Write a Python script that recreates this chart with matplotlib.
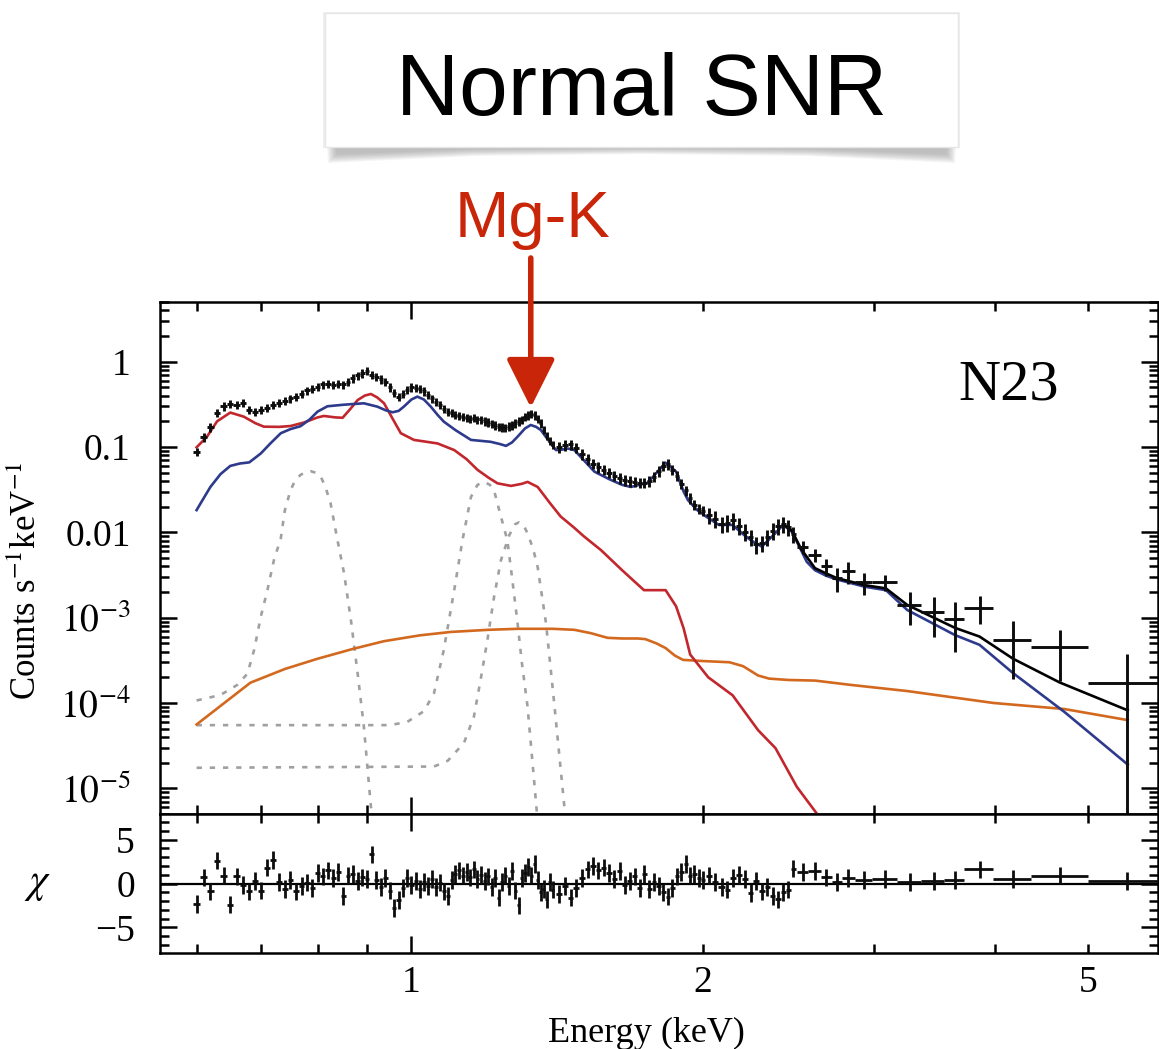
import matplotlib
matplotlib.use('Agg')
import matplotlib.pyplot as plt
import numpy as np
from matplotlib.patches import Rectangle, Polygon
from matplotlib.ticker import FixedLocator, FuncFormatter, NullFormatter, LogLocator

plt.rcParams['font.family'] = ['Liberation Serif', 'DejaVu Serif']
plt.rcParams['mathtext.fontset'] = 'stix'

# ---------------- observed spectrum (counts s^-1 keV^-1) ----------------
energy_a = [0.60, 0.61, 0.62, 0.63, 0.64, 0.65, 0.66, 0.67, 0.68, 0.69,
            0.70, 0.71, 0.72, 0.73, 0.74, 0.75, 0.76, 0.77, 0.78, 0.79,
            0.80, 0.81, 0.82, 0.83, 0.84, 0.85, 0.86, 0.87, 0.88, 0.89,
            0.90, 0.91, 0.92, 0.93, 0.94, 0.95, 0.96, 0.97, 0.98, 0.99,
            1.00, 1.01, 1.02, 1.03, 1.04, 1.05, 1.06, 1.07, 1.08, 1.09,
            1.10, 1.11, 1.12, 1.13, 1.14, 1.15, 1.16, 1.17, 1.18, 1.19,
            1.20, 1.21, 1.22, 1.23, 1.24, 1.25, 1.26, 1.27, 1.28, 1.29,
            1.30, 1.31, 1.32, 1.33, 1.34, 1.35, 1.36, 1.37, 1.38, 1.39, 1.40]
counts_a = [0.088, 0.13, 0.17, 0.25, 0.30, 0.32, 0.31, 0.33, 0.27, 0.26,
            0.27, 0.29, 0.31, 0.33, 0.35, 0.37, 0.39, 0.42, 0.46, 0.48,
            0.51, 0.54, 0.55, 0.53, 0.55, 0.54, 0.58, 0.64, 0.69, 0.73,
            0.78, 0.70, 0.66, 0.62, 0.58, 0.50, 0.43, 0.39, 0.42, 0.47,
            0.50, 0.49, 0.48, 0.45, 0.41, 0.37, 0.34, 0.31, 0.28, 0.26,
            0.25, 0.24, 0.23, 0.225, 0.22, 0.215, 0.22, 0.21, 0.21, 0.20,
            0.195, 0.185, 0.18, 0.172, 0.17, 0.168, 0.175, 0.18, 0.19, 0.20,
            0.21, 0.225, 0.235, 0.245, 0.235, 0.215, 0.19, 0.16, 0.135, 0.118, 0.105]
chi_a = [-2.3, 0.7, -0.9, 2.6, 0.9, -2.4, 0.8, -0.2, -0.9, 0.3,
         -0.8, 1.8, 2.7, 0.2, -0.6, 0.4, -0.9, -0.3, 0.1, -0.5,
         1.2, 0.8, 1.5, 0.6, 1.3, -1.4, 0.9, 1.1, 0.3, 0.7,
         0.5, 3.3, 0.4, -0.4, 0.6, -0.8, -2.8, -1.9, -0.5, 0.6,
         -0.2, 0.3, -0.6, 0.2, -0.3, 0.5, -0.4, 0.1, -0.9, -1.4,
         0.4, 1.1, 1.5, 0.9, 1.3, 0.7, 1.6, 0.5, 1.0, 0.3,
         0.8, -0.4, 0.6, -1.6, 0.2, 0.9, -0.3, 1.4, -0.8, -2.5,
         0.6, 1.2, 1.9, 0.9, 2.2, 0.4, -1.0, -0.6, -1.8, 0.2, -0.7]
halfwidth_a = 0.005
relerr_a = 0.11

energy_b = [1.42, 1.44, 1.46, 1.48, 1.50, 1.52, 1.54, 1.56, 1.58, 1.60,
            1.62, 1.64, 1.66, 1.68, 1.70, 1.72, 1.74, 1.76, 1.78, 1.80,
            1.82, 1.84, 1.86, 1.88, 1.90, 1.92, 1.94, 1.96, 1.98, 2.00]
counts_b = [0.100, 0.105, 0.107, 0.098, 0.082, 0.072, 0.064, 0.058, 0.054, 0.050,
            0.046, 0.043, 0.041, 0.040, 0.039, 0.038, 0.038, 0.040, 0.045, 0.052,
            0.060, 0.063, 0.054, 0.046, 0.037, 0.031, 0.025, 0.021, 0.019, 0.018]
chi_b = [-1.2, -0.3, -1.6, -0.5, 0.6, 1.6, 2.0, 1.5, 1.8, 1.2,
         0.5, 1.4, -0.2, 0.3, 0.8, -0.5, 1.1, -0.6, 0.2, -0.3,
         -1.0, -1.5, -0.5, 0.8, 1.3, 2.2, 0.9, 1.1, 0.6, 0.4]
halfwidth_b = 0.01
relerr_b = 0.14

energy_c = [2.03, 2.06, 2.09, 2.12, 2.15, 2.18, 2.21, 2.24, 2.27, 2.30,
            2.33, 2.36, 2.39, 2.42, 2.45, 2.48]
counts_c = [0.016, 0.0145, 0.0125, 0.013, 0.0138, 0.012, 0.0102, 0.0088, 0.0072, 0.0075,
            0.0088, 0.0105, 0.0118, 0.0125, 0.0115, 0.0095]
chi_c = [0.9, 0.2, -0.4, -0.7, 0.6, 1.0, 0.5, -1.1, 0.3, -0.9,
         -0.4, -1.4, -1.8, -1.0, -0.7, 1.7]
halfwidth_c = 0.015
relerr_c = 0.22

energy_d = [2.535, 2.61, 2.68, 2.75, 2.82, 2.93, 3.08, 3.27, 3.46, 3.64, 3.86, 4.18, 4.67, 5.48]
edge_lo_d = [2.50, 2.57, 2.645, 2.715, 2.785, 2.87, 2.99, 3.17, 3.36, 3.55, 3.72, 3.99, 4.36, 5.00]
edge_hi_d = [2.57, 2.645, 2.715, 2.785, 2.87, 2.99, 3.17, 3.36, 3.55, 3.72, 3.99, 4.36, 5.00, 6.00]
counts_d = [0.0068, 0.0054, 0.0040, 0.0029, 0.0035, 0.0026, 0.0026, 0.00141, 0.00118,
            0.00096, 0.00131, 0.00055, 0.00045, 0.00017]
err_d = [0.0012, 0.00095, 0.0009, 0.0009, 0.0010, 0.00075, 0.00055, 0.0006, 0.00058,
         0.00056, 0.00047, 0.00036, 0.00027, 0.00020]
chi_d = [1.3, 1.4, 0.7, 0.2, 0.6, 0.4, 0.5, 0.2, 0.3, 0.4, 1.6, 0.5, 0.9, 0.3]

# ---------------- model components ----------------
total_E = [2.42, 2.47, 2.525, 2.61, 2.68, 2.75, 2.82, 2.94, 3.09, 3.25, 3.64, 3.86, 4.18, 4.67, 5.49]
total_y = [0.0125, 0.0105, 0.0064, 0.0038, 0.0033, 0.0029, 0.0027, 0.0024, 0.0022, 0.00141,
           7.6e-4, 6.0e-4, 3.3e-4, 1.74e-4, 8.2e-5]

blue_E = [0.600, 0.610, 0.620, 0.635, 0.650, 0.665, 0.680, 0.699, 0.715, 0.733,
          0.750, 0.768, 0.785, 0.800, 0.819, 0.852, 0.893, 0.922, 0.940, 0.956,
          0.970, 0.982, 1.000, 1.014, 1.030, 1.047, 1.065, 1.080, 1.110, 1.152,
          1.207, 1.235, 1.252, 1.270, 1.287, 1.310, 1.328, 1.345, 1.360, 1.385,
          1.410, 1.430, 1.450, 1.473, 1.510, 1.545, 1.600, 1.650, 1.685, 1.753,
          1.800, 1.830, 1.876, 1.910, 1.930, 1.973, 2.020, 2.077, 2.146, 2.200,
          2.240, 2.300, 2.370, 2.420, 2.470, 2.525, 2.560, 2.610, 2.680, 2.750,
          2.940, 3.090, 3.250, 3.640, 3.860, 4.180, 4.720, 5.490]
blue_y = [0.0182, 0.025, 0.034, 0.048, 0.060, 0.064, 0.066, 0.084, 0.11, 0.145,
          0.162, 0.175, 0.21, 0.26, 0.300, 0.313, 0.325, 0.297, 0.27, 0.255,
          0.265, 0.297, 0.36, 0.389, 0.36, 0.297, 0.235, 0.198, 0.158, 0.121,
          0.115, 0.108, 0.103, 0.113, 0.132, 0.165, 0.181, 0.172, 0.158, 0.12,
          0.092, 0.093, 0.096, 0.092, 0.068, 0.0514, 0.042, 0.036, 0.034, 0.038,
          0.053, 0.0655, 0.0514, 0.030, 0.0238, 0.0182, 0.015, 0.0122, 0.0122, 0.0095,
          0.0081, 0.0068, 0.0095, 0.0122, 0.0102, 0.0062, 0.0045, 0.0036, 0.0031, 0.0028,
          0.0023, 0.0021, 0.00123, 6.26e-4, 4.8e-4, 2.24e-4, 7.9e-5, 1.9e-5]

red_E = [0.600, 0.615, 0.630, 0.650, 0.671, 0.690, 0.704, 0.730, 0.750, 0.774,
         0.800, 0.812, 0.835, 0.849, 0.865, 0.880, 0.895, 0.908, 0.922, 0.937,
         0.955, 0.975, 1.006, 1.064, 1.107, 1.140, 1.170, 1.200, 1.227, 1.267,
         1.300, 1.318, 1.350, 1.390, 1.426, 1.470, 1.508, 1.569, 1.650, 1.738,
         1.830, 1.876, 1.910, 1.940, 2.025, 2.146, 2.280, 2.376, 2.500, 2.620, 2.660]
red_y = [0.099, 0.132, 0.20, 0.253, 0.227, 0.19, 0.173, 0.172, 0.176, 0.193,
         0.222, 0.231, 0.222, 0.22, 0.28, 0.355, 0.40, 0.418, 0.38, 0.325,
         0.22, 0.145, 0.121, 0.110, 0.092, 0.072, 0.054, 0.044, 0.0375, 0.035,
         0.037, 0.039, 0.034, 0.022, 0.0153, 0.0115, 0.0089, 0.0062, 0.0036, 0.0021,
         0.0021, 0.00136, 0.00075, 0.00037, 0.00020, 1.23e-4, 4.8e-5, 2.96e-5, 1.04e-5, 5.1e-6, 3.5e-6]

orange_E = [0.600, 0.682, 0.740, 0.800, 0.870, 0.937, 1.020, 1.098, 1.200, 1.287,
            1.400, 1.473, 1.530, 1.594, 1.650, 1.713, 1.744, 1.790, 1.830, 1.870,
            1.907, 2.000, 2.130, 2.200, 2.280, 2.340, 2.450, 2.610, 2.840, 3.250,
            3.990, 4.720, 5.490]
orange_y = [5.6e-5, 1.73e-4, 2.5e-4, 3.3e-4, 4.3e-4, 5.3e-4, 6.2e-4, 6.8e-4, 7.2e-4, 7.4e-4,
            7.4e-4, 7.2e-4, 6.6e-4, 5.8e-4, 5.7e-4, 5.7e-4, 5.6e-4, 5.0e-4, 4.4e-4, 3.6e-4,
            3.2e-4, 3.1e-4, 3.0e-4, 2.7e-4, 2.1e-4, 1.93e-4, 1.86e-4, 1.83e-4, 1.63e-4, 1.38e-4,
            1.0e-4, 8.5e-5, 6.3e-5]

gauss1_E = [0.600, 0.635, 0.661, 0.677, 0.688, 0.699, 0.710, 0.721, 0.733, 0.740,
            0.750, 0.758, 0.768, 0.778, 0.787, 0.796, 0.806, 0.815, 0.825, 0.838,
            0.852, 0.866, 0.880, 0.893, 0.908, 0.912]
gauss1_y = [1.07e-4, 1.24e-4, 1.63e-4, 2.2e-4, 4.2e-4, 1.03e-3, 2.1e-3, 4.7e-3, 8.5e-3, 0.018,
            0.031, 0.040, 0.047, 0.051, 0.052, 0.050, 0.045, 0.034, 0.022, 8.5e-3,
            3.3e-3, 9.3e-4, 2.2e-4, 5.3e-5, 6.2e-6, 4e-6]
gauss2_E = [0.600, 0.950, 0.990, 1.030, 1.055, 1.080, 1.107, 1.129, 1.152, 1.170,
            1.189, 1.205, 1.217, 1.237, 1.256, 1.270, 1.287, 1.300, 1.318, 1.345, 1.350]
gauss2_y = [5.5e-5, 5.5e-5, 6.0e-5, 8.0e-5, 1.3e-4, 4.2e-4, 2.1e-3, 8.1e-3, 0.026, 0.036,
            0.039, 0.036, 0.031, 0.0153, 0.0081, 3.0e-3, 8.6e-4, 3.0e-4, 9.0e-5, 6.6e-6, 4e-6]
gauss3_E = [0.600, 1.055, 1.090, 1.133, 1.160, 1.179, 1.198, 1.217, 1.237, 1.262,
            1.280, 1.292, 1.305, 1.318, 1.335, 1.350, 1.377, 1.404, 1.438, 1.445]
gauss3_y = [1.74e-5, 1.8e-5, 2.1e-5, 3.4e-5, 6.9e-5, 1.9e-4, 5.5e-4, 1.75e-3, 4.7e-3, 9.3e-3,
            0.0125, 0.0131, 0.0122, 9.7e-3, 6.5e-3, 3.9e-3, 8.6e-4, 1.0e-4, 6.3e-6, 4e-6]

ytick_values = [1e-5, 1e-4, 1e-3, 0.01, 0.1, 1]
ytick_labels = [r'$10^{-5}$', r'$10^{-4}$', r'$10^{-3}$', '0.01', '0.1', '1']

# ---------------- colours ----------------
C_BLUE = '#2e3a8c'
C_RED = '#c1272d'
C_ORANGE = '#d2691e'
C_GRAY = '#a0a0a0'
C_DATA = '#0d0d0d'
C_ANNOT = '#c92508'

# ---------------- assemble data ----------------
E_all = np.array(energy_a + energy_b + energy_c + energy_d)
C_all = np.array(counts_a + counts_b + counts_c + counts_d)
chi_all = np.array(chi_a + chi_b + chi_c + chi_d)
xlo = np.concatenate([np.full(len(energy_a), halfwidth_a), np.full(len(energy_b), halfwidth_b),
                      np.full(len(energy_c), halfwidth_c), np.array(energy_d) - np.array(edge_lo_d)])
xhi = np.concatenate([np.full(len(energy_a), halfwidth_a), np.full(len(energy_b), halfwidth_b),
                      np.full(len(energy_c), halfwidth_c), np.array(edge_hi_d) - np.array(energy_d)])
yerr = np.concatenate([np.array(counts_a) * relerr_a, np.array(counts_b) * relerr_b,
                       np.array(counts_c) * relerr_c, np.array(err_d)])
ylo = np.minimum(yerr, C_all * 0.99999)

# ---------------- figure ----------------
W, H = 1159, 1049
fig = plt.figure(figsize=(W / 100, H / 100), dpi=100)
def fx(px): return px / W
def fy(py): return 1 - py / H

L, R = 160, 1158
ax = fig.add_axes([fx(L), fy(814), fx(R) - fx(L), fy(302) - fy(814)])
axr = fig.add_axes([fx(L), fy(953), fx(R) - fx(L), fy(814) - fy(953)])

lw_line = 1.9
for gE, gy in [(gauss1_E, gauss1_y), (gauss2_E, gauss2_y), (gauss3_E, gauss3_y)]:
    ax.plot(gE, gy, color=C_GRAY, lw=1.9, linestyle=(0, (2.0, 3.0)), zorder=2)
ax.plot(orange_E, orange_y, color=C_ORANGE, lw=lw_line, zorder=3)
ax.plot(red_E, red_y, color=C_RED, lw=lw_line, zorder=3)
ax.plot(blue_E, blue_y, color=C_BLUE, lw=lw_line, zorder=4)
ax.plot(total_E, total_y, color='black', lw=lw_line, zorder=4)
ax.errorbar(E_all, C_all, xerr=[xlo, xhi], yerr=[ylo, yerr], fmt='none',
            ecolor=C_DATA, elinewidth=2.1, capsize=0, zorder=5)

axr.axhline(0, color='black', lw=1.6, zorder=2)
axr.errorbar(E_all, chi_all, xerr=[xlo, xhi], yerr=np.ones_like(chi_all), fmt='none',
             ecolor=C_DATA, elinewidth=2.0, capsize=0, zorder=5)

# axes scaling and ticks
for a in (ax, axr):
    a.set_xscale('log')
    a.set_xlim(0.55, 5.9)
    a.xaxis.set_major_locator(FixedLocator([1]))
    a.xaxis.set_minor_locator(FixedLocator([0.6, 0.7, 0.8, 0.9, 2, 3, 4, 5]))
    a.tick_params(which='both', direction='in', top=True, right=True, width=1.8)
    a.tick_params(which='major', length=12)
    a.tick_params(which='minor', length=6.5)
    for s in a.spines.values():
        s.set_linewidth(1.8)

ax.set_yscale('log')
ax.set_ylim(5e-6, 5)
ax.yaxis.set_major_locator(FixedLocator(ytick_values))
ax.yaxis.set_major_formatter(FuncFormatter(lambda v, p: ytick_labels[ytick_values.index(min(ytick_values, key=lambda t: abs(np.log10(t) - np.log10(v))))]))
ax.yaxis.set_minor_locator(LogLocator(base=10, subs=(2, 3, 4, 5, 6, 7, 8, 9), numticks=20))
ax.yaxis.set_minor_formatter(NullFormatter())
ax.tick_params(axis='x', labelbottom=False)
ax.tick_params(axis='y', labelsize=27, pad=21)

axr.set_ylim(-7.9, 7.9)
axr.yaxis.set_major_locator(FixedLocator([-5, 0, 5]))
axr.yaxis.set_minor_locator(FixedLocator([-7, -6, -4, -3, -2, -1, 1, 2, 3, 4, 6, 7]))
axr.xaxis.set_major_formatter(FuncFormatter(lambda v, p: '1'))
axr.xaxis.set_minor_formatter(FuncFormatter(lambda v, p: '2' if abs(v - 2) < 1e-6 else ('5' if abs(v - 5) < 1e-6 else '')))
axr.tick_params(axis='x', which='both', labelsize=27, pad=9)
axr.tick_params(axis='y', labelsize=27, pad=18)

# axis labels
fig.text(fx(27), fy(581), r'Counts s$^{-1}$keV$^{-1}$', rotation=90, ha='center', va='center', fontsize=25)
fig.text(fx(38), fy(884), r'$\chi$', ha='center', va='center', fontsize=30)
fig.text(fx(646), fy(1041.5), 'Energy (keV)', ha='center', va='baseline', fontsize=26)

ax.text(0.7996, 0.8086, 'N23', transform=ax.transAxes, fontsize=42, ha='left', va='baseline')

# Mg-K annotation
ax.annotate('', xy=(1.328, 0.29), xytext=(1.328, 16.4), xycoords='data', textcoords='data',
            arrowprops=dict(arrowstyle='-|>,head_length=1.5,head_width=0.75', color=C_ANNOT,
                            lw=4, mutation_scale=20, shrinkA=0, shrinkB=0),
            annotation_clip=False, zorder=6)
ax.text(1.332, 29.2, 'Mg-K', fontsize=47, color=C_ANNOT, ha='center', va='baseline',
        family=['Liberation Sans', 'DejaVu Sans'], clip_on=False)

# Title box with soft shadow
bx0, bx1, by0, by1 = 325, 958, 13, 147
for k in range(8):
    s = k * 1.2
    pts = [(bx0 + 2 + s, by1 - 2), (bx1 - 2 - s, by1 - 2), (bx1 - 3 - s, 163 - s),
           (bx1 - 150, 156 - s * 0.8), ((bx0 + bx1) / 2, 154 - s * 0.7), (bx0 + 150, 156 - s * 0.8),
           (bx0 + 3 + s, 163 - s)]
    fig.add_artist(Polygon([(fx(x), fy(y)) for x, y in pts], closed=True, transform=fig.transFigure,
                           facecolor='#808080', edgecolor='none', alpha=0.08))
fig.add_artist(Rectangle((fx(bx0 - 2), fy(by1 + 1)), fx(bx1 + 2) - fx(bx0 - 2), fy(by0 - 1) - fy(by1 + 1),
                         transform=fig.transFigure, facecolor='#efefef', edgecolor='none'))
fig.add_artist(Rectangle((fx(bx0), fy(by1)), fx(bx1) - fx(bx0), fy(by0) - fy(by1),
                         transform=fig.transFigure, facecolor='white', edgecolor='#e6e6e6', lw=1))
fig.text(fx(642), fy(115), 'Normal SNR', fontsize=63, ha='center', va='baseline',
         family=['Liberation Sans', 'DejaVu Sans'])

fig.savefig('out.png', dpi=100)
